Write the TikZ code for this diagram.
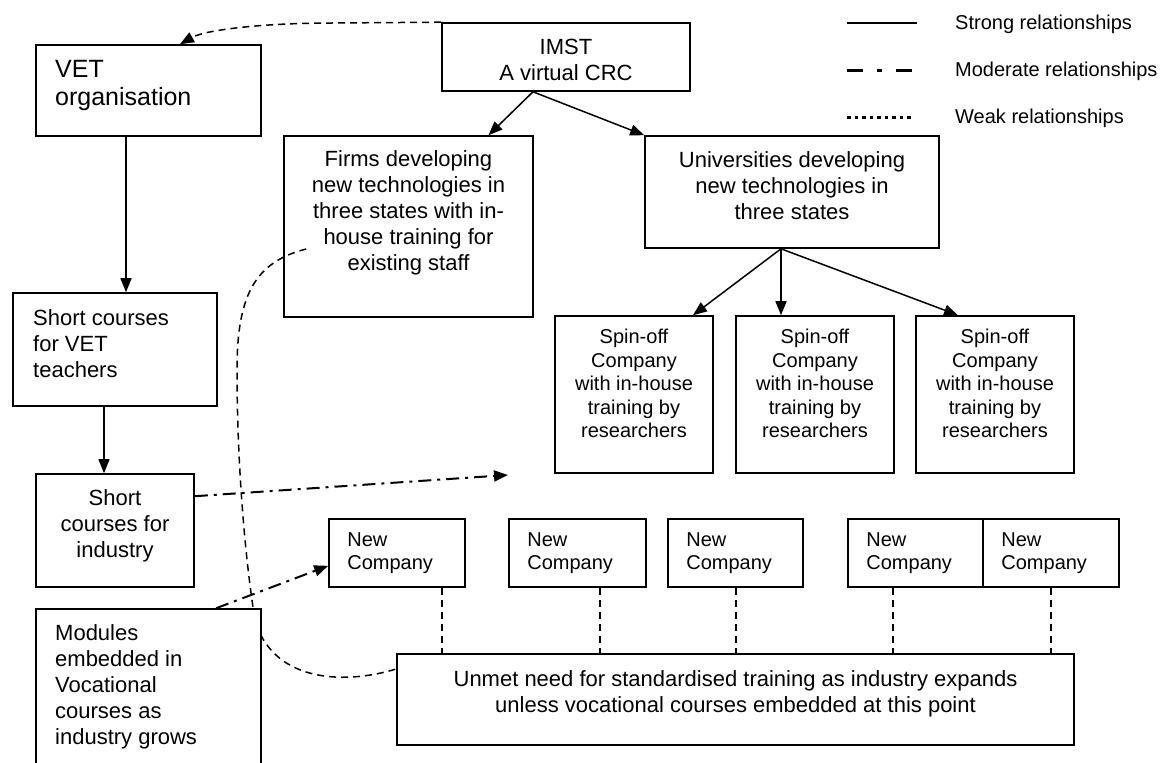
\documentclass[tikz,border=0pt]{standalone}
\usepackage{fontspec}
\setmainfont{Liberation Sans}
\usetikzlibrary{arrows.meta,calc}
\begin{document}
\begin{tikzpicture}[x=1pt,y=-1pt,
  box/.style={draw, line width=1.6pt, fill=white, inner sep=0pt},
  txt/.style={inner sep=0pt, font=\fontsize{22}{26}\selectfont},
  smalltxt/.style={inner sep=0pt, font=\fontsize{20}{23.5}\selectfont},
  bigtxt/.style={inner sep=0pt, font=\fontsize{25}{28}\selectfont},
  tip/.style={-{Triangle[length=14pt,width=11pt]}},
  strongline/.style={line width=1.5pt},
  weakline/.style={line width=1.5pt, dash pattern=on 7pt off 5pt},
  modline/.style={line width=2pt, dash pattern=on 13pt off 6pt on 3pt off 6pt}]
\useasboundingbox (0,0) rectangle (1170,763);
\clip (0,0) rectangle (1170,763);

% boxes
\node[box, minimum width=248pt, minimum height=68pt] (imst) at (566,57) {};
\node[box, minimum width=225pt, minimum height=91pt] (vet) at (148.5,90.5) {};
\node[box, minimum width=249pt, minimum height=181pt] (firms) at (408.5,226.5) {};
\node[box, minimum width=294pt, minimum height=112pt] (uni) at (792,192) {};
\node[box, minimum width=204pt, minimum height=113pt] (vett) at (115,349.5) {};
\node[box, minimum width=158pt, minimum height=113pt] (sci) at (115,530.5) {};
\node[box, minimum width=158pt, minimum height=157pt] (sp1) at (634,394.5) {};
\node[box, minimum width=158pt, minimum height=157pt] (sp2) at (815,394.5) {};
\node[box, minimum width=158pt, minimum height=157pt] (sp3) at (995,394.5) {};
\node[box, minimum width=136pt, minimum height=68pt] (nc1) at (397,553) {};
\node[box, minimum width=137pt, minimum height=68pt] (nc2) at (577.5,553) {};
\node[box, minimum width=135pt, minimum height=68pt] (nc3) at (735.5,553) {};
\node[box, minimum width=135pt, minimum height=68pt] (nc4) at (915.5,553) {};
\node[box, minimum width=136pt, minimum height=68pt] (nc5) at (1051,553) {};
\node[box, minimum width=677pt, minimum height=91pt] (unmet) at (735.5,699.5) {};

% weak curve from firms to unmet need (passes behind the modules box)
\draw[weakline] ($(firms.west)+(23,22.5)$) .. controls (255,262) and (237,295) .. (237,370)
  .. controls (237,470) and (246,565) .. (255,620)
  .. controls (272,680) and (340,686) .. ($(unmet.west)+(0,-30.5)$);

\node[box, minimum width=225pt, minimum height=191pt] (mod) at (148.5,704.5) {};

% texts
\node[txt, anchor=north, align=center] (imstT) at (566,39) {IMST\\A virtual CRC};
\node[bigtxt, anchor=north west, align=left] (vetT) at (55,60) {VET\\organisation};
\node[txt, anchor=north, align=center] (firmsT) at (408.5,150) {Firms developing\\new technologies in\\three states with in-\\house training for\\existing staff};
\node[txt, anchor=north, align=center] (uniT) at (792,151) {Universities developing\\new technologies in\\three states};
\node[txt, anchor=north west, align=left] (vettT) at (33,309) {Short courses\\for VET\\teachers};
\node[txt, anchor=north, align=center] (sciT) at (115,489) {Short\\courses for\\industry};
\node[txt, anchor=north west, align=left] (modT) at (55,624) {Modules\\embedded in\\Vocational\\courses as\\industry grows};
\foreach \s in {sp1,sp2,sp3}{
  \node[smalltxt, anchor=north, align=center] (\s T) at ($(\s.north)+(0,14)$) {Spin-off\\Company\\with in-house\\training by\\researchers};
}
\foreach \s in {nc1,nc2,nc3,nc4,nc5}{
  \node[smalltxt, anchor=north west, align=left] (\s T) at ($(\s.north west)+(19,14)$) {New\\Company};
}
\node[txt, anchor=north, align=center] (unmetT) at (735.5,670) {Unmet need for standardised training as industry expands\\unless vocational courses embedded at this point};

% strong arrows
\draw[strongline, tip] ($(imst.south)+(-33,0)$) -- ($(firms.north)+(80,0)$);
\draw[strongline, tip] ($(imst.south)+(-33,0)$) -- (uni.north west);
\draw[strongline, tip] ($(vet.south)+(-22.5,0)$) -- ($(vett.north)+(11,0)$);
\draw[strongline, tip] ($(vett.south)+(-11,0)$) -- ($(sci.north)+(-11,0)$);
\draw[strongline, tip] ($(uni.south)+(-11,0)$) -- ($(sp1.north)+(59,0)$);
\draw[strongline, tip] ($(uni.south)+(-11,0)$) -- ($(sp2.north)+(-34,0)$);
\draw[strongline, tip] ($(uni.south)+(-11,0)$) -- ($(sp3.north)+(-37,0)$);

% weak arrow IMST -> VET organisation
\draw[weakline, tip] (imst.north west) -- (332,23) .. controls (262,23) and (205,30) .. ($(vet.north)+(31.5,0)$);

% moderate arrows
\coordinate (e1) at (508,475);
\draw[modline, tip] ($(sci.north east)+(0,23)$) -- (e1);
\draw[modline, tip] ($(mod.north west)+(181,0)$) -- ($(nc1.south west)+(0,-22)$);

% weak links new companies -> unmet need
\path ($(nc1.south)+(45,0)$) coordinate (d1);
\path ($(nc2.south)+(22.5,0)$) coordinate (d2);
\path ($(nc3.south)+(0.5,0)$) coordinate (d3);
\path ($(nc4.south)+(-22.5,0)$) coordinate (d4);
\path (nc5.south) coordinate (d5);
\foreach \d in {d1,d2,d3,d4,d5}{
  \draw[weakline] (\d) -- (\d |- unmet.north);
}

% legend
\coordinate (la1) at (847,23); \coordinate (lb1) at (917,23);
\coordinate (la2) at (847,70); \coordinate (lb2) at (915,70);
\coordinate (la3) at (847,117); \coordinate (lb3) at (912,117);
\draw[line width=1.6pt] (la1) -- (lb1);
\draw[line width=3pt, dash pattern=on 16pt off 14pt on 5pt off 14pt] (la2) -- (lb2);
\draw[line width=3pt, dash pattern=on 3.5pt off 4pt] (la3) -- (lb3);
\node[smalltxt, anchor=base west] (lt1) at (955,29) {Strong relationships};
\node[smalltxt, anchor=base west] (lt2) at (955,76) {Moderate relationships};
\node[smalltxt, anchor=base west] (lt3) at (955,123) {Weak relationships};
\end{tikzpicture}
\end{document}
